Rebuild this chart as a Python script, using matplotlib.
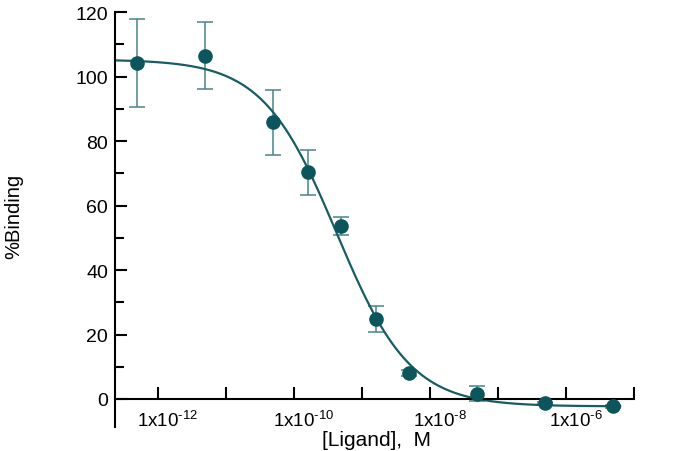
import numpy as np
import matplotlib
matplotlib.use("Agg")
import matplotlib.pyplot as plt
from matplotlib.transforms import ScaledTranslation

plt.rcParams['font.family'] = ['Liberation Sans', 'DejaVu Sans']
plt.rcParams['mathtext.fontset'] = 'custom'
plt.rcParams['mathtext.rm'] = 'Liberation Sans'

# data
conc = [5e-13, 5e-12, 5e-11, 1.6e-10, 5e-10, 1.6e-9, 5e-9, 5e-8, 5e-7, 5e-6]
binding = [104.2, 106.5, 85.8, 70.3, 53.6, 24.7, 8.0, 1.7, -1.2, -2.3]
sem = [13.7, 10.3, 10.0, 7.0, 2.8, 4.0, 1.0, 2.2, 0.4, 0.4]
# fitted curve parameters (4-parameter logistic)
fit_top = 105.3
fit_bottom = -2.3
fit_logic50 = -9.37
fit_hill = 0.8

xtick_exps = [-12, -11, -10, -9, -8, -7, -6, -5]
xtick_labels = [r'1x10$^{\text{-12}}$', '', r'1x10$^{\text{-10}}$', '', r'1x10$^{\text{-8}}$', '', r'1x10$^{\text{-6}}$', '']

col_pt = '#0b565c'
col_err = '#4a8489'
col_line = '#175d62'

fig = plt.figure(figsize=(6.8, 4.52), dpi=100)
ax = fig.add_axes([0.169, 0.053, 0.763, 0.918])

xf = np.logspace(-12.63, -5.2, 400)
yf = fit_bottom + (fit_top - fit_bottom) / (1 + 10 ** ((np.log10(xf) - fit_logic50) * fit_hill))
ax.plot(xf, yf, color=col_line, lw=1.6, zorder=2)

ax.errorbar(conc, binding, yerr=sem, fmt='none', ecolor=col_err, elinewidth=1.1,
            capsize=5.5, capthick=1.1, zorder=1)
ax.plot(conc, binding, 'o', color=col_pt, ms=9.5, mec=col_pt, zorder=3)

ax.set_xscale('log')
ax.set_xlim(10 ** -12.63, 1e-5)
ax.set_ylim(-8.7, 120)

ax.spines['top'].set_visible(False)
ax.spines['right'].set_visible(False)
ax.spines['bottom'].set_position(('data', 0))
for s in ['left', 'bottom']:
    ax.spines[s].set_linewidth(1.5)

ax.set_xticks([10.0 ** e for e in xtick_exps])
ax.set_xticklabels(xtick_labels)
ax.xaxis.set_minor_locator(matplotlib.ticker.NullLocator())
ax.set_yticks([0, 20, 40, 60, 80, 100, 120])
ax.set_yticks([10, 30, 50, 70, 90, 110], minor=True)

ax.tick_params(axis='x', which='major', direction='in', length=8.5, width=1.5,
               labelsize=13.5, pad=7)
ax.tick_params(axis='y', which='major', direction='in', length=8.5, width=1.5,
               labelsize=14, pad=5)
ax.tick_params(axis='y', which='minor', direction='in', length=6.5, width=1.5)

off = ScaledTranslation(0.10, 0, fig.dpi_scale_trans)
for lab in ax.get_xticklabels():
    lab.set_transform(lab.get_transform() + off)

ax.set_xlabel('[Ligand],  M', fontsize=15)
ax.xaxis.set_label_coords(0.505, -0.008)
ax.set_ylabel('%Binding', fontsize=14.5)
ax.yaxis.set_label_coords(-0.176, 0.51)

fig.savefig('out.png', dpi=100)
